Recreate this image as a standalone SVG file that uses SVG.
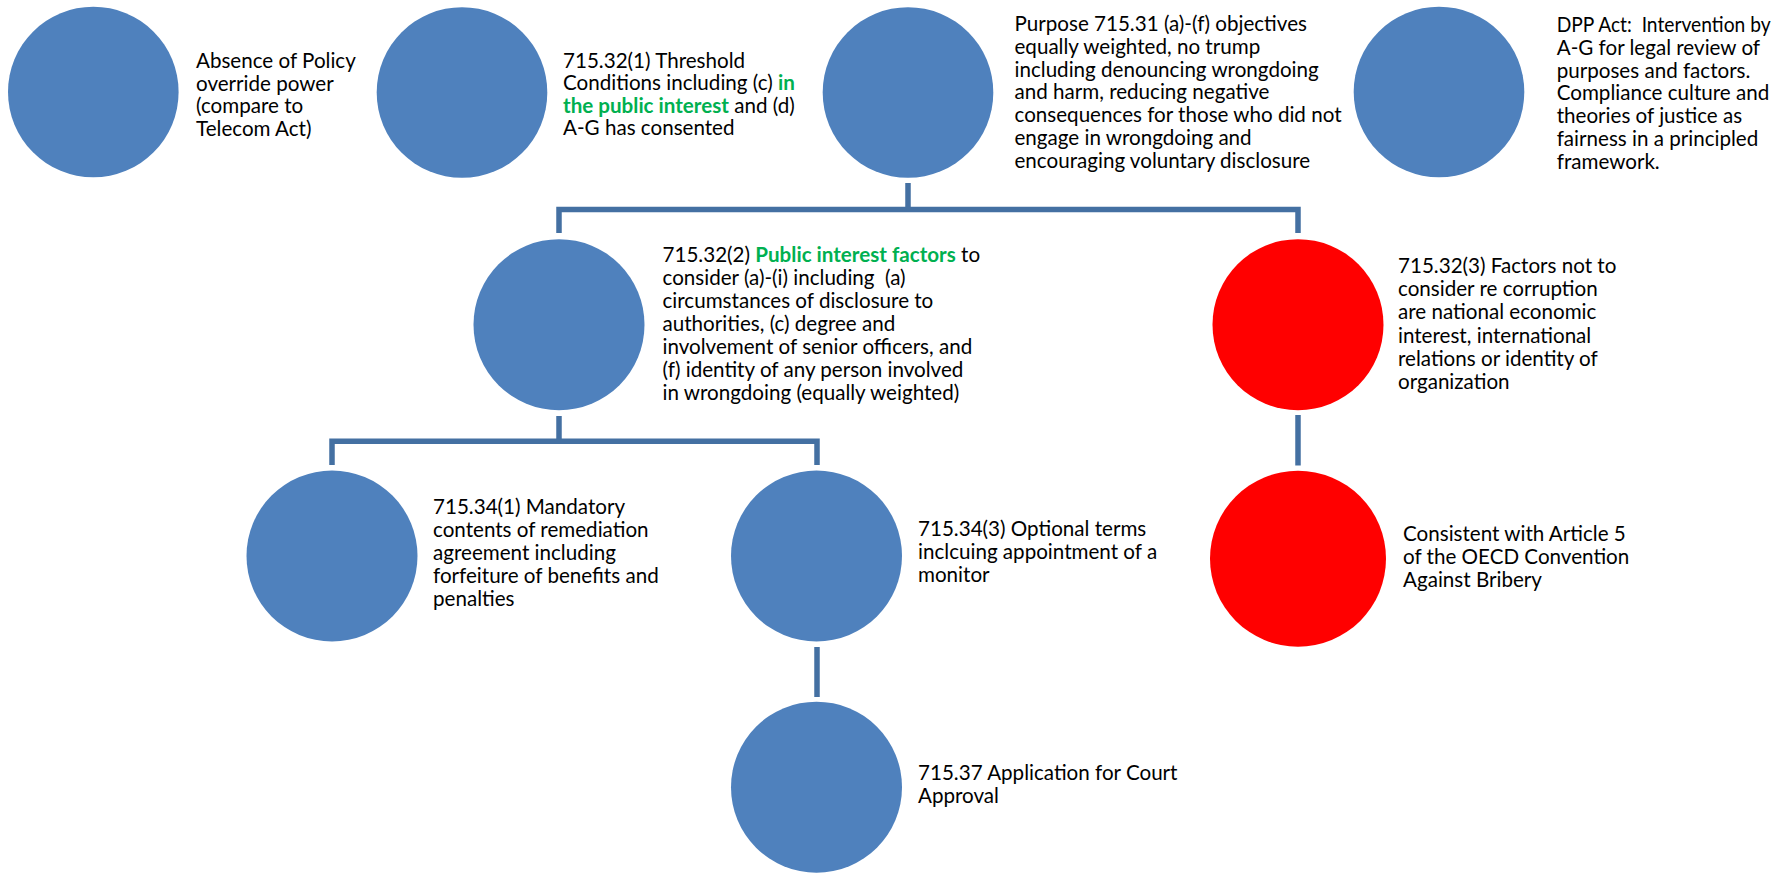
<svg xmlns="http://www.w3.org/2000/svg" width="1790" height="873" viewBox="0 0 1790 873">
<style>
.b{fill:#4F81BD}
.r{fill:#FF0000}
.c{fill:none;stroke:#4470A2;stroke-width:5.5}
text{font-family:Lato,"Liberation Sans",sans-serif;font-size:20.6px;fill:#000}
.g{fill:#00B050;font-weight:bold}
</style>
<rect width="1790" height="873" fill="#fff"/>
<g id="connectors">
<path class="c" d="M908 183V209.5M559 233V209.5H1298V233"/>
<path class="c" d="M559 416V441.3M332 465V441.3H817V465"/>
<path class="c" d="M1298 415V465.5"/>
<path class="c" d="M817 647V697"/>
</g>
<g id="n1"><circle class="b" cx="93.3" cy="92" r="85.3"/>
<text><tspan x="196" y="68">Absence of Policy</tspan><tspan x="196" y="90.7">override power</tspan><tspan x="196" y="113.3">(compare to</tspan><tspan x="196" y="136">Telecom Act)</tspan></text></g>
<g id="n2"><circle class="b" cx="462" cy="92.5" r="85.3"/>
<text xml:space="preserve"><tspan x="563" y="67.5">715.32(1) Threshold</tspan><tspan x="563" y="90">Conditions including (c) <tspan class="g">in</tspan></tspan><tspan x="563" y="112.5"><tspan class="g">the public interest</tspan> and (d)</tspan><tspan x="563" y="135">A-G has consented</tspan></text></g>
<g id="n3"><circle class="b" cx="908" cy="92.5" r="85.3"/>
<text><tspan x="1014.5" y="31">Purpose 715.31 (a)-(f) objectives</tspan><tspan x="1014.5" y="53.8">equally weighted, no trump</tspan><tspan x="1014.5" y="76.6">including denouncing wrongdoing</tspan><tspan x="1014.5" y="99.4">and harm, reducing negative</tspan><tspan x="1014.5" y="122.2">consequences for those who did not</tspan><tspan x="1014.5" y="145">engage in wrongdoing and</tspan><tspan x="1014.5" y="167.8">encouraging voluntary disclosure</tspan></text></g>
<g id="n4"><circle class="b" cx="1439" cy="92" r="85.3"/>
<text xml:space="preserve" x="1556.7" y="32" textLength="214" lengthAdjust="spacingAndGlyphs">DPP Act:  Intervention by</text>
<text><tspan x="1556.7" y="54.8">A-G for legal review of</tspan><tspan x="1556.7" y="77.6">purposes and factors.</tspan><tspan x="1556.7" y="100.4">Compliance culture and</tspan><tspan x="1556.7" y="123.2">theories of justice as</tspan><tspan x="1556.7" y="146">fairness in a principled</tspan><tspan x="1556.7" y="168.8">framework.</tspan></text></g>
<g id="n5"><circle class="b" cx="559" cy="324.7" r="85.5"/>
<text xml:space="preserve"><tspan x="662.5" y="262">715.32(2) <tspan class="g">Public interest factors</tspan> to</tspan><tspan x="662.5" y="285">consider (a)-(i) including  (a)</tspan><tspan x="662.5" y="308">circumstances of disclosure to</tspan><tspan x="662.5" y="331">authorities, (c) degree and</tspan><tspan x="662.5" y="354">involvement of senior officers, and</tspan><tspan x="662.5" y="377">(f) identity of any person involved</tspan><tspan x="662.5" y="400">in wrongdoing (equally weighted)</tspan></text></g>
<g id="n6"><circle class="r" cx="1298" cy="324.7" r="85.5"/>
<text><tspan x="1398" y="273">715.32(3) Factors not to</tspan><tspan x="1398" y="296.2">consider re corruption</tspan><tspan x="1398" y="319.4">are national economic</tspan><tspan x="1398" y="342.6">interest, international</tspan><tspan x="1398" y="365.8">relations or identity of</tspan><tspan x="1398" y="389">organization</tspan></text></g>
<g id="n7"><circle class="b" cx="332" cy="556" r="85.5"/>
<text><tspan x="433" y="513.5">715.34(1) Mandatory</tspan><tspan x="433" y="536.5">contents of remediation</tspan><tspan x="433" y="559.5">agreement including</tspan><tspan x="433" y="582.5">forfeiture of benefits and</tspan><tspan x="433" y="605.5">penalties</tspan></text></g>
<g id="n8"><circle class="b" cx="816.5" cy="556" r="85.5"/>
<text><tspan x="918" y="536">715.34(3) Optional terms</tspan><tspan x="918" y="559">inclcuing appointment of a</tspan><tspan x="918" y="582">monitor</tspan></text></g>
<g id="n9"><ellipse class="r" cx="1298" cy="558.7" rx="88" ry="88"/>
<text><tspan x="1403" y="541">Consistent with Article 5</tspan><tspan x="1403" y="564">of the OECD Convention</tspan><tspan x="1403" y="587">Against Bribery</tspan></text></g>
<g id="n10"><circle class="b" cx="816.5" cy="787.2" r="85.5"/>
<text><tspan x="918" y="780.3">715.37 Application for Court</tspan><tspan x="918" y="803">Approval</tspan></text></g>
</svg>
